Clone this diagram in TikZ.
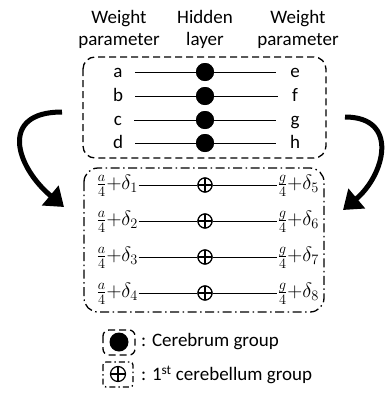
\documentclass[tikz,border=0pt]{standalone}
\usepackage{fontspec}
\setmainfont{Carlito}
\usetikzlibrary{arrows.meta}
\tikzset{
  lab/.style={inner sep=1pt},
  mlab/.style={inner sep=0.5pt,anchor=west,font=\fontsize{19.5}{21}\selectfont},
  wire/.style={line width=1pt},
  dot/.style={circle,fill,minimum size=18pt,inner sep=0pt},
  oplus/.style={circle,draw,fill=white,line width=1.2pt,minimum size=14pt,inner sep=0pt,
    path picture={\draw[line width=1.2pt] (path picture bounding box.north) -- (path picture bounding box.south)
      (path picture bounding box.west) -- (path picture bounding box.east);}},
  topbox/.style={line width=1.3pt,dash pattern=on 7pt off 4pt,rounded corners=12pt},
  botbox/.style={line width=1.3pt,dash pattern=on 9pt off 3.5pt on 1.5pt off 3.5pt,rounded corners=14pt},
  curlarrow/.style={line width=5pt,-{Triangle[length=18pt,width=25pt]}},
}
\begin{document}
\begin{tikzpicture}[x=1pt,y=-1pt,font=\fontsize{19}{22}\selectfont]
  \useasboundingbox (0,0) rectangle (388,394);
  % headings
  \node[align=center] (wl) at (119,29) {Weight\\parameter};
  \node[align=center] (hl) at (205,29) {Hidden\\layer};
  \node[align=center] (wr) at (298,29) {Weight\\parameter};
  % cerebrum group
  \draw[topbox] (83,57) rectangle (326,158);
  \node[dot] (h1) at (205,72) {};
  \node[dot] (h2) at (205,96) {};
  \node[dot] (h3) at (205,120) {};
  \node[dot] (h4) at (205,143) {};
  \node[lab,anchor=base] (a) at (118,77) {a};
  \node[lab,anchor=base] (b) at (118,101) {b};
  \node[lab,anchor=base] (c) at (118,125) {c};
  \node[lab,anchor=base] (d) at (118,148) {d};
  \node[lab,anchor=base] (e) at (295,77) {e};
  \node[lab,anchor=base] (f) at (295,101) {f};
  \node[lab,anchor=base] (g) at (295,125) {g};
  \node[lab,anchor=base] (h) at (295,148) {h};
  \draw[wire] ([xshift=11pt]a.east |- h1) -- ([xshift=-13pt]e.west |- h1);
  \draw[wire] ([xshift=11pt]b.east |- h2) -- ([xshift=-13pt]f.west |- h2);
  \draw[wire] ([xshift=11pt]c.east |- h3) -- ([xshift=-13pt]g.west |- h3);
  \draw[wire] ([xshift=11pt]d.east |- h4) -- ([xshift=-13pt]h.west |- h4);
  \node[dot] at (h1) {};
  \node[dot] at (h2) {};
  \node[dot] at (h3) {};
  \node[dot] at (h4) {};
  % 1st cerebellum group
  \draw[botbox] (84,168) rectangle (324,312);
  \node[oplus] (c1) at (205,185) {};
  \node[oplus] (c2) at (205,221) {};
  \node[oplus] (c3) at (205,257) {};
  \node[oplus] (c4) at (205,293) {};
  \node[mlab] (l1) at (96,186) {$\frac{a}{4}{+}\delta_1$};
  \node[mlab] (l2) at (96,222) {$\frac{a}{4}{+}\delta_2$};
  \node[mlab] (l3) at (96,258) {$\frac{a}{4}{+}\delta_3$};
  \node[mlab] (l4) at (96,294) {$\frac{a}{4}{+}\delta_4$};
  \node[mlab] (r1) at (277,186) {$\frac{g}{4}{+}\delta_5$};
  \node[mlab] (r2) at (277,222) {$\frac{g}{4}{+}\delta_6$};
  \node[mlab] (r3) at (277,258) {$\frac{g}{4}{+}\delta_7$};
  \node[mlab] (r4) at (277,294) {$\frac{g}{4}{+}\delta_8$};
  \draw[wire] (l1.east |- c1) -- (c1) -- (r1.west |- c1);
  \draw[wire] (l2.east |- c2) -- (c2) -- (r2.west |- c2);
  \draw[wire] (l3.east |- c3) -- (c3) -- (r3.west |- c3);
  \draw[wire] (l4.east |- c4) -- (c4) -- (r4.west |- c4);
  \node[oplus] at (c1) {};
  \node[oplus] at (c2) {};
  \node[oplus] at (c3) {};
  \node[oplus] at (c4) {};
  % arrows
  \coordinate (ls) at (62,112);
  \coordinate (le) at (64,207);
  \coordinate (rs) at (345,117);
  \coordinate (re) at (343,210);
  \draw[curlarrow] (ls) to[out=180,in=140,looseness=1.7] (le);
  \draw[curlarrow] (rs) to[out=0,in=40,looseness=1.5] (re);
  % legend
  \node[dot,minimum size=19pt] (kd) at (119,342) {};
  \draw[topbox,rounded corners=6pt] ([shift={(-16,-12)}]kd.center) rectangle ([shift={(16,13)}]kd.center);
  \node[lab,anchor=west] (kdt) at (140,342) {: Cerebrum group};
  \node[oplus,minimum size=15pt] (ko) at (118,374) {};
  \draw[botbox,dash pattern=on 6pt off 3pt on 1.5pt off 3pt,rounded corners=3pt] ([shift={(-15,-12)}]ko.center) rectangle ([shift={(15,13)}]ko.center);
  \node[lab,anchor=west] (kot) at (140,375) {: 1\textsuperscript{st} cerebellum group};
\end{tikzpicture}
\end{document}
